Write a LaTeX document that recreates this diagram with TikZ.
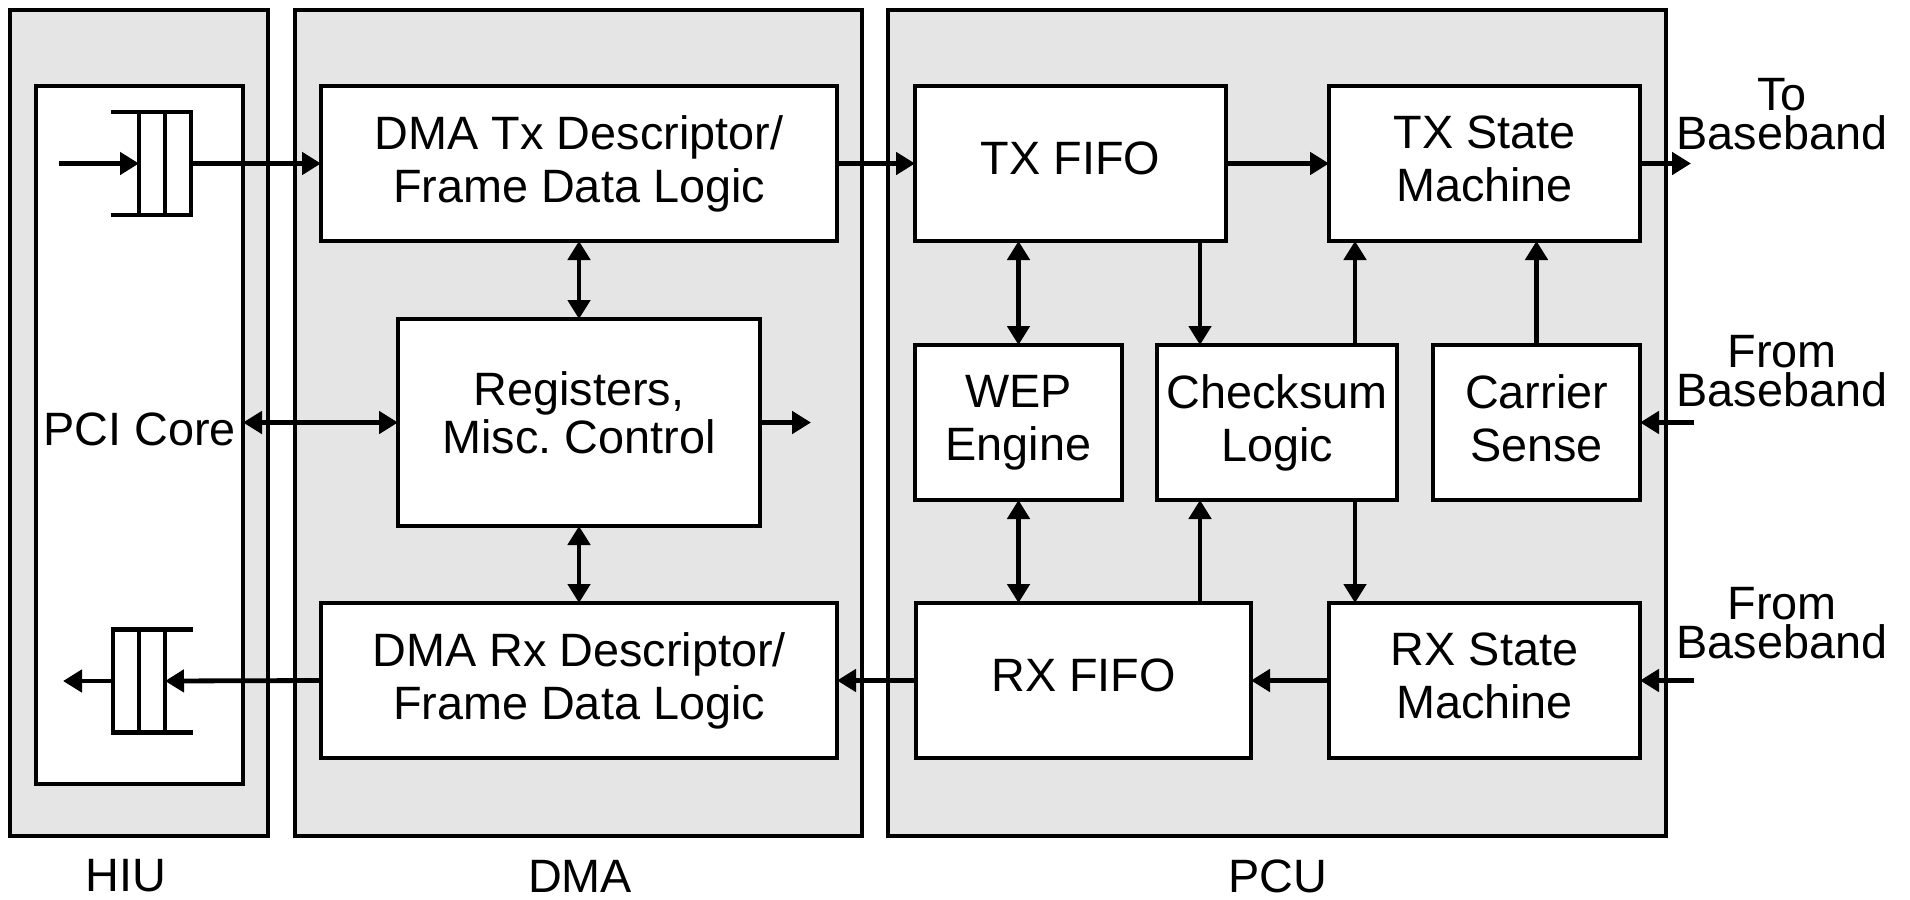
\documentclass[tikz,border=0pt]{standalone}
\usepackage{fontspec}
\setmainfont{Liberation Sans}
\usetikzlibrary{arrows.meta}
\definecolor{panel}{HTML}{E5E5E5}
\frenchspacing
\begin{document}
\begin{tikzpicture}[x=0.5pt,y=-0.5pt,
  lw/.style={line width=2.4pt},
  sz/.style 2 args={minimum width=#1*0.5pt, minimum height=#2*0.5pt},
  panelbox/.style={draw, lw, fill=panel, inner sep=0pt, outer sep=0pt},
  blk/.style={draw, lw, fill=white, inner sep=0pt, outer sep=0pt, align=center, text depth=4.9pt, font=\fontsize{23.4}{26.5}\selectfont},
  lbl/.style={inner sep=0pt, align=center, font=\fontsize{23.4}{19.5}\selectfont},
  conn/.style={lw, -{Triangle[length=9.5pt,width=11pt]}},
  bconn/.style={lw, {Triangle[length=9.5pt,width=11pt]}-{Triangle[length=9.5pt,width=11pt]}},
  queue/.style={inner sep=0pt, outer sep=0pt, minimum width=26pt, minimum height=51.5pt}
]
\useasboundingbox (0,0) rectangle (1910,899);
\fill[white] (0,0) rectangle (1910,899);

% panels
\node[panelbox, sz={258}{826}] (hiu) at (139,423) {};
\node[panelbox, sz={567}{826}] (dma) at (578.5,423) {};
\node[panelbox, sz={778}{826}] (pcu) at (1277,423) {};

% blocks
\node[blk, sz={207}{698}, text depth=6pt] (pci) at (139.5,435) {PCI Core};
\node[blk, sz={516}{155}] (dmatx) at (579,163.5) {DMA Tx Descriptor/\\Frame Data Logic};
\node[blk, sz={362}{207}, text depth=10pt, font=\fontsize{23.4}{24}\selectfont] (reg) at (579,422.5) {Registers,\\Misc. Control};
\node[blk, sz={516}{155}] (dmarx) at (579,680.5) {DMA Rx Descriptor/\\Frame Data Logic};
\node[blk, sz={311}{155}] (txfifo) at (1070.5,163.5) {TX FIFO};
\node[blk, sz={311}{155}] (txsm) at (1484.5,163.5) {TX State\\Machine};
\node[blk, sz={207}{155}] (wep) at (1018.5,422.5) {WEP\\Engine};
\node[blk, sz={240}{155}] (chk) at (1277,422.5) {Checksum\\Logic};
\node[blk, sz={207}{155}] (cs) at (1536.5,422.5) {Carrier\\Sense};
\node[blk, sz={335}{155}] (rxfifo) at (1083.5,680.5) {RX FIFO};
\node[blk, sz={311}{155}] (rxsm) at (1484.5,680.5) {RX State\\Machine};

% queues
\node[queue] (q1) at (165,163.5) {};
\draw[lw] ([xshift=-14pt]q1.north west) -- (q1.north east) -- (q1.south east) -- ([xshift=-14pt]q1.south west);
\draw[lw] (q1.north west) -- (q1.south west) (q1.north) -- (q1.south);
\node[queue] (q2) at (139,681) {};
\draw[lw] ([xshift=14pt]q2.north east) -- (q2.north west) -- (q2.south west) -- ([xshift=14pt]q2.south east);
\draw[lw] (q2.north east) -- (q2.south east) (q2.north) -- (q2.south);

% free ends and columns
\coordinate (in1) at (59,163.5);
\coordinate (out2) at (63,681);
\coordinate (regout) at (811,422.5);
\coordinate (bbtx) at (1691,163.5);
\coordinate (bbcs) at (1694,422.5);
\coordinate (bbrx) at (1694,680.5);
\coordinate (xa) at (1200,0);
\coordinate (xb) at (1355,0);

% connectors
\draw[conn] (in1) -- (q1.west);
\draw[conn] (q1.east) -- (dmatx.west);
\draw[bconn] (dmatx.south) -- (reg.north);
\draw[bconn] (reg.south) -- (dmarx.north);
\draw[bconn] (pci.east |- reg.west) -- (reg.west);
\draw[conn] (reg.east) -- (regout);
\draw[conn] (dmarx.west) -- (q2.east);
\draw[conn] (q2.west) -- (out2);
\draw[conn] (dmatx.east) -- (txfifo.west);
\draw[conn] (txfifo.east) -- (txsm.west);
\draw[conn] (txsm.east) -- (bbtx);
\draw[bconn] (txfifo.south -| wep.north) -- (wep.north);
\draw[conn] (txfifo.south -| xa) -- (chk.north -| xa);
\draw[conn] (chk.north -| xb) -- (txsm.south -| xb);
\draw[conn] (cs.north) -- (txsm.south -| cs.north);
\draw[conn] (bbcs) -- (cs.east);
\draw[bconn] (wep.south) -- (rxfifo.north -| wep.south);
\draw[conn] (rxfifo.north -| xa) -- (chk.south -| xa);
\draw[conn] (chk.south -| xb) -- (rxsm.north -| xb);
\draw[conn] (rxsm.west) -- (rxfifo.east);
\draw[conn] (rxfifo.west) -- (dmarx.east);
\draw[conn] (bbrx) -- (rxsm.east);

% outside labels
\node[lbl] (tobb) at (1782,114) {To\\Baseband};
\node[lbl] (frbb1) at (1782,371) {From\\Baseband};
\node[lbl] (frbb2) at (1782,623) {From\\Baseband};
\node[lbl] (lhiu) at (126,876) {HIU};
\node[lbl] (ldma) at (580,876) {DMA};
\node[lbl] (lpcu) at (1278,876) {PCU};
\end{tikzpicture}
\end{document}
